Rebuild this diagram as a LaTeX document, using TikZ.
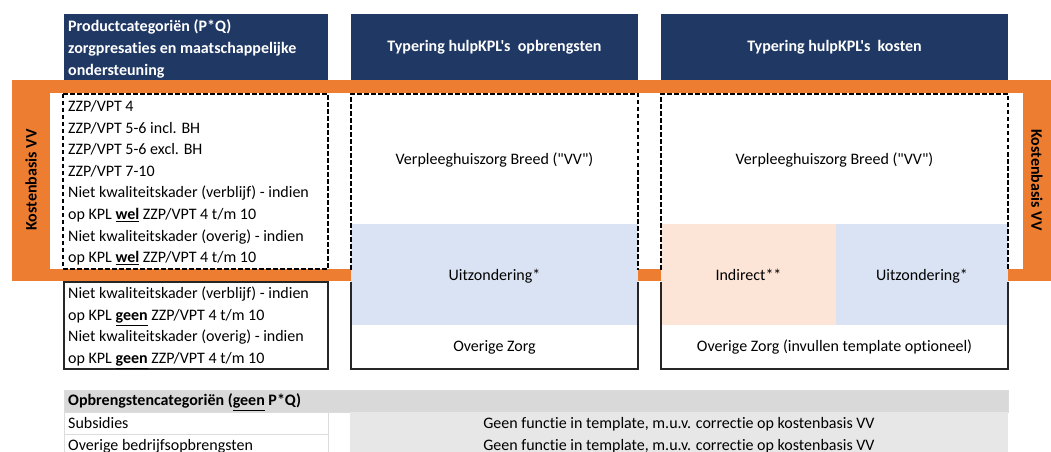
\documentclass[tikz,border=0pt]{standalone}
\usepackage{fontspec}
\setmainfont{Carlito}[Ligatures={TeXOff,NoCommon}]
\definecolor{navy}{HTML}{203864}
\definecolor{orng}{HTML}{ED7D31}
\definecolor{lblue}{HTML}{DAE3F3}
\definecolor{peach}{HTML}{FCE4D6}
\definecolor{hgray}{HTML}{D9D9D9}
\definecolor{rgray}{HTML}{E7E7E7}
\definecolor{cellline}{HTML}{DCDCDC}
\begin{document}
\begin{tikzpicture}[x=1bp,y=-1bp,
  txt/.style={inner sep=0pt, font=\fontsize{16bp}{19bp}\selectfont},
  ltxt/.style={txt, anchor=base west},
  ctxt/.style={txt, anchor=base},
  htxt/.style={inner sep=0pt, text=white, font=\fontsize{16bp}{19bp}\selectfont\bfseries},
  vtxt/.style={inner sep=0pt, font=\fontsize{16bp}{19bp}\selectfont\bfseries, anchor=center},
  dashbox/.style={draw=black, line width=1.4bp, dash pattern=on 4.5bp off 2.5bp},
  solidbox/.style={draw=black!85, line width=1.3bp},
  hdrbox/.style={fill=navy, draw=none},
]
\useasboundingbox (0,0) rectangle (1051,452);
\clip (0,0) rectangle (1051,452);

% orange frame "Kostenbasis VV"
\fill[orng] (12,80) rectangle (1051,281);
\fill[white] (50,93) rectangle (1023,269);

% headers
\fill[hdrbox] (64,14) rectangle (328,80);
\fill[hdrbox] (351,14) rectangle (638,80);
\fill[hdrbox] (661,14) rectangle (1008,80);
\node[htxt, anchor=base west] (h1a) at (68,32) {Productcategoriën (P*Q)};
\node[htxt, anchor=base west] (h1b) at (68,54) {zorgpresaties en maatschappelijke};
\node[htxt, anchor=base west] (h1c) at (68,76) {ondersteuning};
\node[htxt, anchor=base] (h2) at (494.5,52) {Typering hulpKPL's~ opbrengsten};
\node[htxt, anchor=base] (h3) at (834.5,52) {Typering hulpKPL's~ kosten};

% coloured regions
\fill[lblue] (351,224) rectangle (638,325);
\fill[peach] (661,224) rectangle (836,325);
\fill[lblue] (836,224) rectangle (1008,325);

% box 1 lower (solid)
\draw[solidbox, fill=white] (64,282) rectangle (328,369);
% box 1 upper (dashed)
\draw[dashbox] (63,94) rectangle (328,269);
% box 2
\draw[dashbox] (351,270) -- (351,94) -- (638,94) -- (638,270);
\draw[solidbox] (351,282) -- (351,369) -- (638,369) -- (638,282);
% box 3
\draw[dashbox] (661,270) -- (661,94) -- (1008,94) -- (1008,270);
\draw[solidbox] (661,282) -- (661,369) -- (1008,369) -- (1008,282);

% labels Kostenbasis VV
\node[vtxt, rotate=90] (kbl) at (31,180) {Kostenbasis VV};
\node[vtxt, rotate=-90] (kbr) at (1037,180) {Kostenbasis VV};

% box 1 texts
\node[ltxt] (p1) at (68,112) {ZZP/VPT 4};
\node[ltxt] (p2) at (68,133.5) {ZZP/VPT 5-6 incl. BH};
\node[ltxt] (p3) at (68,155) {ZZP/VPT 5-6 excl. BH};
\node[ltxt] (p4) at (68,176.5) {ZZP/VPT 7-10};
\node[ltxt] (p5) at (68,198) {Niet kwaliteitskader (verblijf) - indien};
\node[ltxt] (p6) at (68,220) {op KPL \textbf{\underline{wel}} ZZP/VPT 4 t/m 10};
\node[ltxt] (p7) at (68,241.5) {Niet kwaliteitskader (overig) - indien};
\node[ltxt] (p8) at (68,263) {op KPL \textbf{\underline{wel}} ZZP/VPT 4 t/m 10};
\node[ltxt] (q1) at (68,299) {Niet kwaliteitskader (verblijf) - indien};
\node[ltxt] (q2) at (68,321) {op KPL \textbf{\underline{geen}} ZZP/VPT 4 t/m 10};
\node[ltxt] (q3) at (68,342) {Niet kwaliteitskader (overig) - indien};
\node[ltxt] (q4) at (68,364) {op KPL \textbf{\underline{geen}} ZZP/VPT 4 t/m 10};

% box 2 texts
\node[ctxt] (o1) at (494.5,165) {Verpleeghuiszorg Breed ("VV")};
\node[ctxt] (o2) at (494.5,281) {Uitzondering*};
\node[ctxt] (o3) at (494.5,352) {Overige Zorg};

% box 3 texts
\node[ctxt] (k1) at (834.5,165) {Verpleeghuiszorg Breed ("VV")};
\node[ctxt] (k2) at (748.5,281) {Indirect**};
\node[ctxt] (k3) at (922,281) {Uitzondering*};
\node[ctxt] (k4) at (834.5,352) {Overige Zorg (invullen template optioneel)};

% bottom table
\fill[hgray] (64,390) rectangle (1008,412);
\draw[cellline, line width=0.8bp] (64,390) rectangle (1008,412);
\draw[cellline, line width=0.8bp, fill=white] (64,412) rectangle (328,434);
\draw[cellline, line width=0.8bp, fill=white] (64,434) rectangle (328,456);
\fill[rgray] (350,412) rectangle (1008,456);
\node[ltxt, font=\fontsize{16bp}{19bp}\selectfont\bfseries] (b0) at (68,406) {Opbrengstencategoriën (\underline{geen} P*Q)};
\node[ltxt] (b1) at (68,428) {Subsidies};
\node[ltxt] (b2) at (68,450) {Overige bedrijfsopbrengsten};
\node[ctxt] (g1) at (679,428) {Geen functie in template, m.u.v. correctie op kostenbasis VV};
\node[ctxt] (g2) at (679,450) {Geen functie in template, m.u.v. correctie op kostenbasis VV};
\end{tikzpicture}
\end{document}
